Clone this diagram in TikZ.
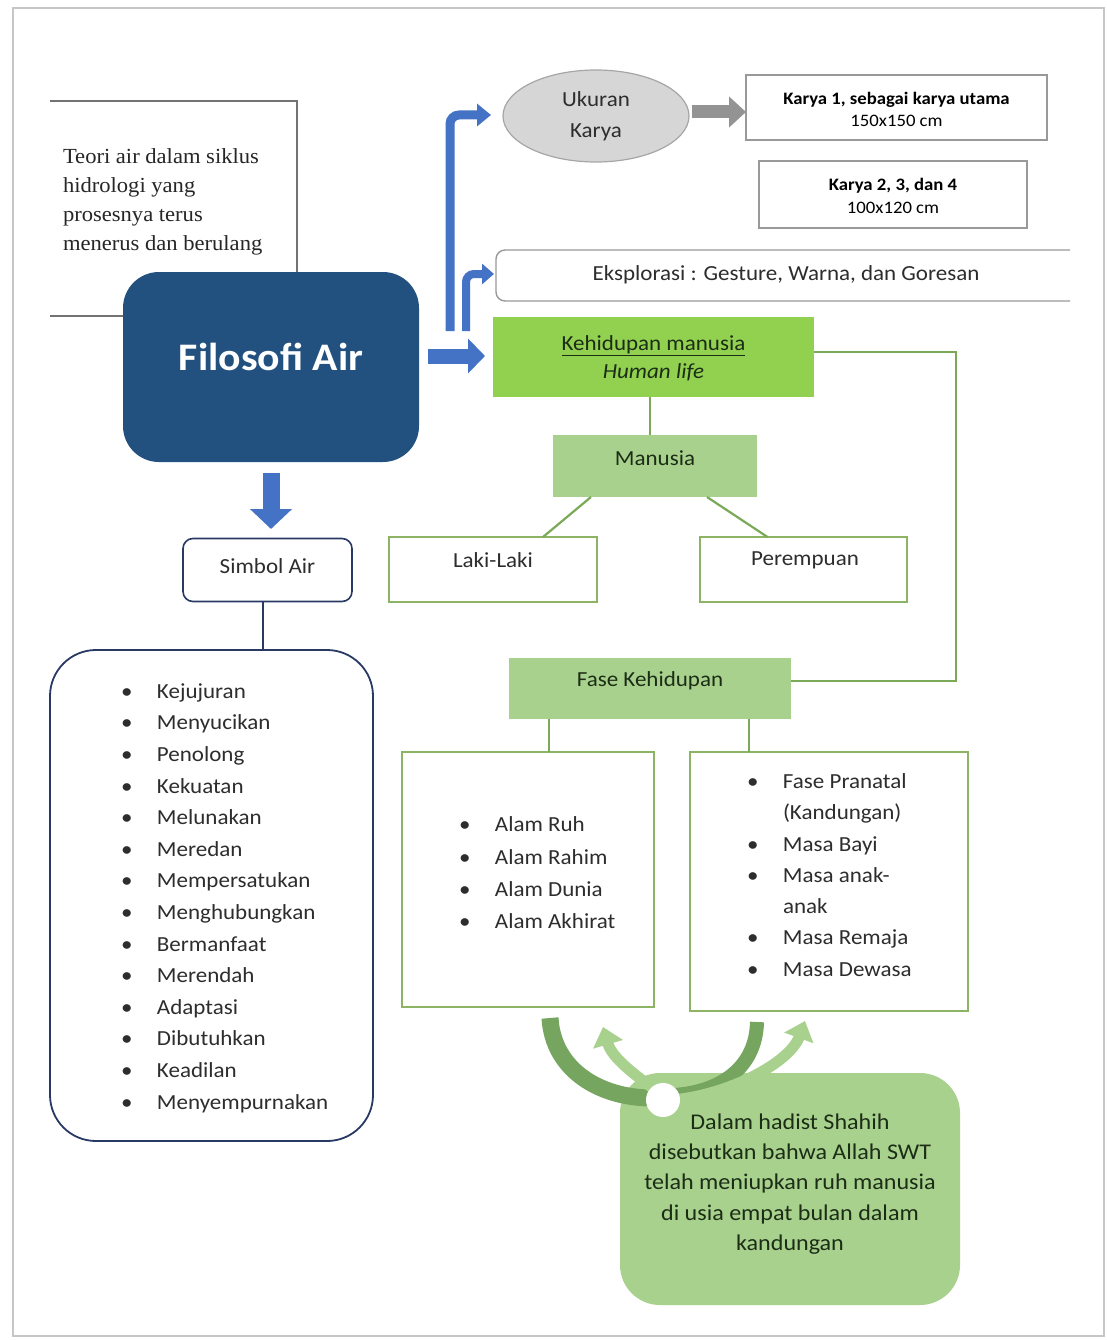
\documentclass[tikz,border=0pt]{standalone}
\usepackage{fontspec}
\setmainfont{Carlito}[FakeStretch=1.07]
\newfontfamily\timesf{Liberation Serif}[FakeStretch=1.05]
\usetikzlibrary{arrows.meta,shapes.geometric}
\definecolor{navy}{RGB}{34,81,128}
\definecolor{listline}{RGB}{40,58,100}
\definecolor{bluearr}{RGB}{68,114,196}
\definecolor{gline}{RGB}{122,170,88}
\definecolor{gborder}{RGB}{140,180,100}
\definecolor{kgreen}{RGB}{146,208,80}
\definecolor{lgreen}{RGB}{169,209,142}
\definecolor{darc}{RGB}{118,165,95}
\definecolor{gtext}{RGB}{28,45,22}
\definecolor{txt}{RGB}{45,45,45}
\tikzset{
  every node/.style={inner sep=0pt, outer sep=0pt, text=txt},
  lbox/.style={draw=gborder, line width=1.6pt, fill=white},
  gfill/.style={fill=lgreen, draw=none},
  greybox/.style={draw=gray!80, line width=1.4pt, fill=white},
  gconn/.style={draw=gline, line width=2.2pt},
  f22/.style={font=\fontsize{21.5}{26}\selectfont},
}
\newcommand{\bul}{\makebox[36pt][l]{\textbullet}}
\begin{document}
\begin{tikzpicture}[x=1pt,y=-1pt]
\useasboundingbox (0,0) rectangle (1107,1340);
\fill[white] (0,0) rectangle (1107,1340);
% page frame
\draw[gray!45, line width=2pt] (13,8) rectangle (1104,1336);

% Teori box (open on the left)
\draw[gray!90!black, line width=1.6pt] (50,101) -- (297,101) -- (297,316) -- (50,316);
\node[anchor=north west, align=left, font=\timesf\fontsize{21.5}{29}\selectfont, text=black!85] (teori) at (63,149)
  {Teori air dalam siklus\\hidrologi yang\\prosesnya terus\\menerus dan berulang};

% Filosofi Air
\node[fill=navy, rounded corners=36pt, minimum width=296pt, minimum height=190pt] (filo) at (271,367) {};
\node[text=white, font=\bfseries\fontsize{39}{41}\selectfont] (filot) at (271,357) {Filosofi Air};

% Ukuran Karya ellipse
\node[ellipse, fill=gray!32, draw=gray!70, line width=1.2pt, minimum width=186pt, minimum height=92pt] (ukuran) at (596,116) {};
\node[align=center, font=\fontsize{21.5}{31}\selectfont] (ukurant) at (596,116) {Ukuran\\Karya};

% Karya boxes
\node[greybox, minimum width=301pt, minimum height=65pt] (k1) at (896.5,107.5) {};
\node[align=center, font=\fontsize{17.5}{22}\selectfont, text=black] (k1t) at (896.5,109) {\textbf{Karya 1, sebagai karya utama}\\150x150 cm};
\node[greybox, minimum width=268pt, minimum height=67pt] (k2) at (893,194.5) {};
\node[align=center, font=\fontsize{17.5}{23}\selectfont, text=black] (k2t) at (893,196) {\textbf{Karya 2, 3, dan 4}\\100x120 cm};

% gray arrow
\draw[gray!85, line width=13pt, -{Triangle[width=30pt,length=17pt]}] ([xshift=3pt]ukuran.east |- 0,112) -- (k1.west |- 0,112);

% Eksplorasi (open on the right)
\draw[gray!80, line width=1.4pt, rounded corners=9pt] (1070,250) -- (496,250) -- (496,301) -- (1070,301);
\node[f22] (eks) at (786,275) {Eksplorasi : Gesture, Warna, dan Goresan};

% Kehidupan manusia
\node[fill=kgreen, minimum width=321pt, minimum height=80pt] (keh) at (653.5,357) {};
\node[align=center, font=\fontsize{21.5}{28}\selectfont, text=gtext] (keht) at (653.5,358) {\underline{Kehidupan manusia}\\\textit{Human life}};

% Manusia
\node[gfill, minimum width=204pt, minimum height=62pt] (man) at (655,466) {};
\node[f22, text=gtext] (mant) at (655,458) {Manusia};

% Laki / Perempuan
\node[lbox, minimum width=208pt, minimum height=65pt] (laki) at (493,569.5) {};
\node[f22] (lakit) at (493,560) {Laki-Laki};
\node[lbox, minimum width=207pt, minimum height=65pt] (per) at (803.5,569.5) {};
\node[f22] (pert) at (805,560) {Perempuan};

% Fase Kehidupan
\node[gfill, minimum width=282pt, minimum height=61pt] (fase) at (650,688.5) {};
\node[f22, text=gtext] (faset) at (650,681) {Fase Kehidupan};

% Alam box
\node[lbox, minimum width=252pt, minimum height=255pt] (alam) at (528,879.5) {};
\node[anchor=west, align=left, font=\fontsize{21.5}{32.3}\selectfont] (alamt) at (459,873)
  {\bul Alam Ruh\\\bul Alam Rahim\\\bul Alam Dunia\\\bul Alam Akhirat};

% Masa box
\node[lbox, minimum width=278pt, minimum height=259pt] (masa) at (829,881.5) {};
\node[anchor=west, align=left, font=\fontsize{21.5}{31.3}\selectfont] (masat) at (747,875)
  {\bul Fase Pranatal\\\hspace*{36pt}(Kandungan)\\\bul Masa Bayi\\\bul Masa anak-\\\hspace*{36pt}anak\\\bul Masa Remaja\\\bul Masa Dewasa};

% Green connectors
\draw[gconn] (keh.south -| 650,0) -- (man.north -| 650,0);
\draw[gconn] ([xshift=-64pt]man.south) -- ([xshift=50pt]laki.north);
\draw[gconn] ([xshift=52pt]man.south) -- ([xshift=-36pt]per.north);
\draw[gconn] ([yshift=5pt]keh.east) -| (956,681) -- ([yshift=7.5pt]fase.east);
\draw[gconn] ([xshift=-101pt]fase.south) -- (alam.north -| 549,0);
\draw[gconn] ([xshift=99pt]fase.south) -- (masa.north -| 749,0);

% Dalam hadist box
\node[fill=lgreen, rounded corners=40pt, minimum width=340pt, minimum height=232pt] (hadist) at (790,1189) {};
\node[align=center, font=\fontsize{22.5}{30.3}\selectfont, text=gtext] (hadistt) at (790,1184)
  {Dalam hadist Shahih\\disebutkan bahwa Allah SWT\\telah meniupkan ruh manusia\\di usia empat bulan dalam\\kandungan};

% curved arrows
\coordinate (hub) at (663,1100);
\draw[darc, line width=17pt] (550,1018) .. controls (553,1070) and (600,1098) .. (652,1098);
\draw[darc, line width=14pt] (757,1022) .. controls (756,1068) and (720,1092) .. (674,1095);
\draw[lgreen, line width=11pt, -{Triangle[width=30pt,length=18pt]}] (658,1092) .. controls (635,1075) and (612,1058) .. (603,1027);
\draw[lgreen, line width=11pt, -{Triangle[width=30pt,length=18pt]}] (672,1100) .. controls (730,1095) and (790,1062) .. (805,1021);
\fill[white] (hub) circle (17pt);

% Blue arrows
\coordinate (b1) at (450,331);
\coordinate (b2) at (466,331);
\draw[bluearr, line width=9pt, rounded corners=9pt, -{Triangle[width=22pt,length=14pt]}] (b1) |- ([xshift=-12pt]ukuran.west |- 0,115);
\draw[bluearr, line width=8pt, rounded corners=8pt, -{Triangle[width=20pt,length=12pt]}] (b2) |- (494,274);
\draw[bluearr, line width=15pt, -{Triangle[width=34pt,length=17pt]}] ([xshift=9pt]filo.east |- 0,356) -- ([xshift=-8pt]keh.west |- 0,356);
\draw[bluearr, line width=17pt, -{Triangle[width=41pt,length=20pt]}] ([yshift=-11pt]filo.south) -- ([yshift=9pt]271,538);

% Simbol Air
\node[draw=listline, line width=1.6pt, fill=white, rounded corners=10pt, minimum width=169pt, minimum height=63pt] (simbol) at (267.5,570) {};
\node[f22] (simbolt) at (267.5,566) {Simbol Air};

% list box
\node[draw=listline, line width=1.8pt, fill=white, rounded corners=46pt, minimum width=323pt, minimum height=491pt] (list) at (211.5,895.5) {};
\draw[listline, line width=1.8pt] (simbol.south -| 263,0) -- (list.north -| 263,0);
\node[anchor=west, align=left, font=\fontsize{21.5}{31.6}\selectfont] (listt) at (121,898)
  {\bul Kejujuran\\
   \bul Menyucikan\\
   \bul Penolong\\
   \bul Kekuatan\\
   \bul Melunakan\\
   \bul Meredan\\
   \bul Mempersatukan\\
   \bul Menghubungkan\\
   \bul Bermanfaat\\
   \bul Merendah\\
   \bul Adaptasi\\
   \bul Dibutuhkan\\
   \bul Keadilan\\
   \bul Menyempurnakan};
\end{tikzpicture}
\end{document}
